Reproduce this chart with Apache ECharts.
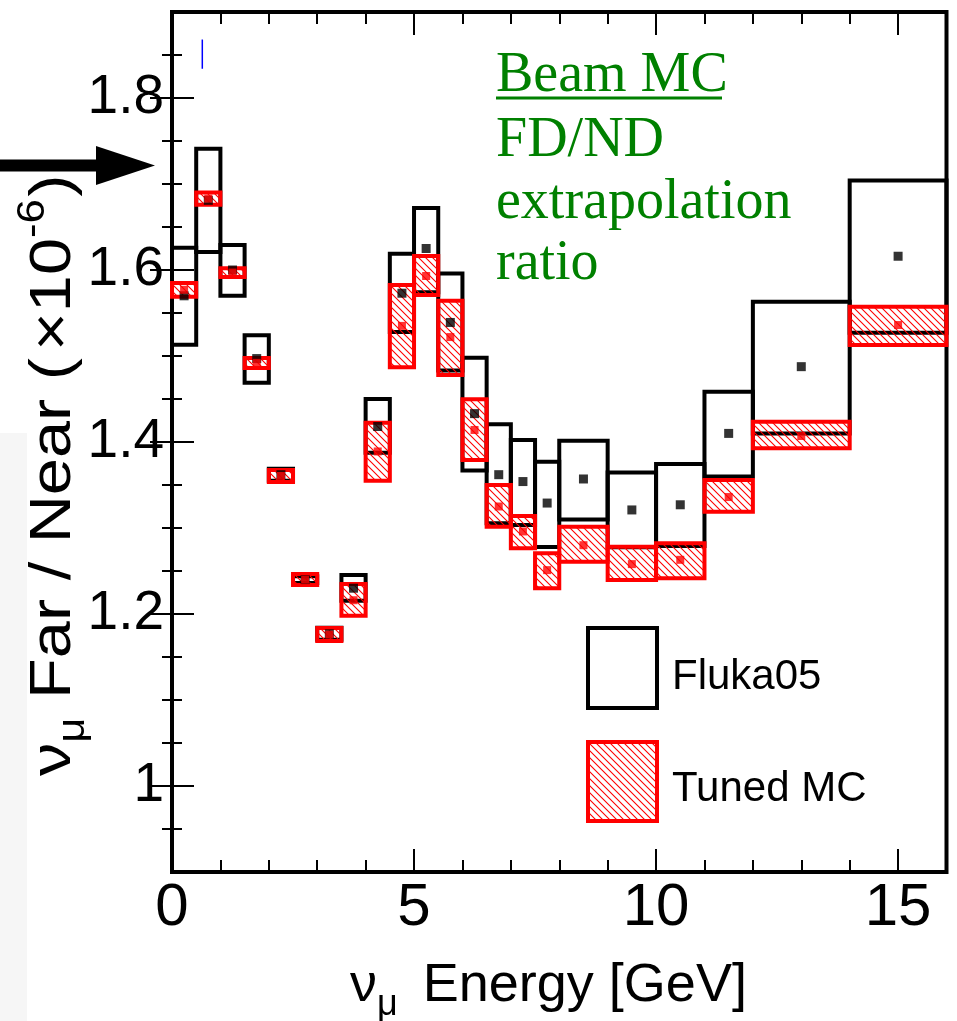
<!DOCTYPE html>
<html><head><meta charset="utf-8">
<script src="https://cdn.jsdelivr.net/npm/echarts@6/dist/echarts.min.js"></script>
<style>html,body{margin:0;padding:0;background:#fff}#c{width:957px;height:1021px}</style>
</head><body><div id="c"></div>
<script>
// ---------------- data ----------------
const binEdges   = [0,0.5,1,1.5,2,2.5,3,3.5,4,4.5,5,5.5,6,6.5,7,7.5,8,9,10,11,12,14,16];
const flukaLow   = [1.513,1.621,1.570,1.469,1.355,1.236,1.170,1.2155,1.3876,1.528,1.574,1.483,1.367,1.3055,1.3035,1.278,1.310,1.2775,1.279,1.360,1.410,1.527];
const flukaHigh  = [1.626,1.741,1.629,1.524,1.369,1.244,1.184,1.2454,1.450,1.619,1.672,1.596,1.498,1.4206,1.4023,1.377,1.4015,1.3644,1.3744,1.4585,1.563,1.704];
const flukaValue = [1.570,1.681,1.600,1.497,1.362,1.240,1.177,1.230,1.418,1.573,1.625,1.539,1.433,1.362,1.354,1.329,1.357,1.321,1.327,1.410,1.4876,1.616];
const tunedLow   = [1.569,1.676,1.592,1.486,1.3535,1.2337,1.1686,1.198,1.355,1.4869,1.571,1.478,1.379,1.3015,1.2764,1.2299,1.2608,1.2395,1.2415,1.319,1.3927,1.5128];
const tunedHigh  = [1.585,1.690,1.602,1.4977,1.3674,1.2465,1.1837,1.2349,1.4225,1.5826,1.6163,1.5643,1.4497,1.350,1.314,1.2706,1.3015,1.2783,1.2822,1.3558,1.4236,1.5574];
const tunedValue = [1.577,1.683,1.597,1.492,1.3605,1.240,1.176,1.216,1.389,1.535,1.593,1.522,1.414,1.325,1.296,1.251,1.280,1.258,1.263,1.336,1.407,1.536];
const strayMarkX  = [0.626];
const strayMarkLo = [1.834];
const strayMarkHi = [1.868];
const xTickLabels = [0,5,10,15];
const xMinorTicks = [1,2,3,4,6,7,8,9,11,12,13,14,16];
const yTickLabels = [1,1.2,1.4,1.6,1.8];
const yMinorTicks = [0.95,1.05,1.1,1.15,1.25,1.3,1.35,1.45,1.5,1.55,1.65,1.7,1.75,1.85];
const seriesNames = ['Fluka05','Tuned MC'];
const noteLines = ['Beam MC','FD/ND','extrapolation','ratio'];

// ---------------- helpers ----------------
const SANS = '"Liberation Sans", Arial, Helvetica, sans-serif';
const SERIF = '"Liberation Serif", "Times New Roman", serif';
const RED = '#ff0000';
function makeHatch() {
  const s = 7, c = document.createElement('canvas');
  c.width = s; c.height = s;
  const g = c.getContext('2d');
  g.strokeStyle = RED; g.lineWidth = 1.1;
  g.beginPath();
  g.moveTo(-1,-1); g.lineTo(s+1,s+1);
  g.moveTo(-1,s-1); g.lineTo(1,s+1);
  g.moveTo(s-1,-1); g.lineTo(s+1,1);
  g.stroke();
  return c;
}
const hatch = makeHatch();
const mctx = document.createElement('canvas').getContext('2d');
function tw(t, size, fam) { mctx.font = size + 'px ' + fam; return mctx.measureText(t).width; }
function richPieces(parts, fam) {
  let x = 0; const out = [];
  parts.forEach(p => {
    x += (p.dx || 0);
    out.push({type:'text', x:x, y:p.dy - 0.31*p.s,
      style:{text:p.t, fill:'#000', font: p.s + 'px ' + fam, textAlign:'left', verticalAlign:'middle'}});
    x += tw(p.t, p.s, fam);
  });
  return out;
}

const boxData = (lo, hi) => lo.map((v,i) => [binEdges[i], binEdges[i+1], v, hi[i]]);
const ptData = vals => vals.map((v,i) => [(binEdges[i]+binEdges[i+1])/2, v]);

function boxRenderer(stroke, fill) {
  return function (params, api) {
    const p0 = api.coord([api.value(0), api.value(3)]);
    const p1 = api.coord([api.value(1), api.value(2)]);
    return {type:'rect', shape:{x:p0[0], y:p0[1], width:p1[0]-p0[0], height:p1[1]-p0[1]},
            style:{fill:fill, stroke:stroke, lineWidth:4}};
  };
}

// ---------------- axes ----------------
const tickStyle = {color:'#000', width:2};
function xAx(pos, ticks, len, labels) {
  return {type:'value', min:0, max:16, position:pos, gridIndex:0,
    axisLine:{show:false}, splitLine:{show:false},
    axisTick:{show:true, inside:true, length:len, customValues:ticks, lineStyle:tickStyle},
    axisLabel: labels ? {show:true, customValues:ticks, fontSize:60, fontFamily:SANS, color:'#000', margin:6}
                      : {show:false}};
}
function yAx(pos, ticks, len, labels) {
  return {type:'value', min:0.9, max:1.9, position:pos, gridIndex:0,
    axisLine:{show:false}, splitLine:{show:false},
    axisTick:{show:true, inside:true, length:len, customValues:ticks, lineStyle:tickStyle},
    axisLabel: labels ? {show:true, customValues:ticks, fontSize:55, fontFamily:SANS, color:'#000', margin:8,
                         padding:[8,0,0,0], formatter: v => String(+(+v).toFixed(1))}
                      : {show:false}};
}

const yTitle = richPieces([
  {t:'ν', s:58, dy:0}, {t:'μ', s:38, dy:13}, {t:' Far / Near (', s:58, dy:0},
  {t:'×10', s:58, dy:0, dx:6}, {t:'-6', s:38, dy:-27}, {t:')', s:58, dy:0, dx:2}], SANS);
const xTitle = richPieces([
  {t:'ν', s:54, dy:0}, {t:'μ', s:36, dy:13}, {t:' Energy [GeV]', s:54, dy:0, dx:10}], SANS);

const option = {
  backgroundColor:'#fff',
  animation:false,
  grid:{left:172, right:10.5, top:12, bottom:149, show:true, borderColor:'#000', borderWidth:4, backgroundColor:'transparent'},
  xAxis:[ xAx('bottom', xTickLabels, 23, true), xAx('bottom', xMinorTicks, 12, false),
          xAx('top', xTickLabels, 23, false), xAx('top', xMinorTicks, 12, false) ],
  yAxis:[ yAx('left', yTickLabels, 22, true), yAx('left', yMinorTicks, 10, false),
          yAx('right', yTickLabels, 22, false), yAx('right', yMinorTicks, 10, false) ],
  series:[
    {type:'custom', name:seriesNames[0], xAxisIndex:0, yAxisIndex:0, clip:false, z:2,
     renderItem: boxRenderer('#000', 'none'), encode:{x:[0,1], y:[2,3]},
     data: boxData(flukaLow, flukaHigh)},
    {type:'custom', name:seriesNames[1], xAxisIndex:0, yAxisIndex:0, clip:false, z:3,
     renderItem: boxRenderer(RED, {image:hatch, repeat:'repeat'}), encode:{x:[0,1], y:[2,3]},
     data: boxData(tunedLow, tunedHigh)},
    {type:'scatter', xAxisIndex:0, yAxisIndex:0, symbol:'rect', symbolSize:9, z:4,
     itemStyle:{color:'#000'}, data: ptData(flukaValue)},
    {type:'scatter', xAxisIndex:0, yAxisIndex:0, symbol:'rect', symbolSize:8, z:5,
     itemStyle:{color:RED}, data: ptData(tunedValue)},
    {type:'custom', xAxisIndex:0, yAxisIndex:0, z:5, encode:{x:0, y:[1,2]},
     renderItem:(params, api) => {
       const a = api.coord([api.value(0), api.value(1)]), b = api.coord([api.value(0), api.value(2)]);
       return {type:'line', shape:{x1:a[0], y1:a[1], x2:b[0], y2:b[1]}, style:{stroke:'#0000ff', lineWidth:1.5}};
     },
     data: strayMarkX.map((x,i) => [x, strayMarkLo[i], strayMarkHi[i]])}
  ],
  graphic:[
    {type:'rect', shape:{x:0, y:433, width:27, height:588}, style:{fill:'#f6f6f6'}, z:-1},
    {type:'rect', shape:{x:0, y:159.5, width:98, height:12}, style:{fill:'#000'}},
    {type:'polygon', shape:{points:[[96,146],[155,165.5],[96,185]]}, style:{fill:'#000'}},
    {type:'group', x:72, y:776, rotation:Math.PI/2, scaleX:1.15, scaleY:1, children:yTitle},
    {type:'group', x:350, y:1003, children:xTitle},
    // note text
    ...noteLines.map((t,i) => ({type:'text', x:496, y:[93.3,158.3,220,281.7][i] - 0.305*56,
      style:{text:t, fill:'#008000', font:'56px ' + SERIF, textAlign:'left', verticalAlign:'middle'}})),
    {type:'rect', shape:{x:496, y:96.5, width:226, height:3}, style:{fill:'#008000'}},
    // legend
    {type:'rect', shape:{x:588, y:628, width:69, height:80}, style:{fill:'none', stroke:'#000', lineWidth:4}},
    {type:'rect', shape:{x:588, y:742, width:69, height:79}, style:{fill:{image:hatch, repeat:'repeat'}, stroke:RED, lineWidth:4}},
    {type:'text', x:672, y:690 - 0.31*42, style:{text:seriesNames[0], fill:'#000', font:'42px ' + SANS, textAlign:'left', verticalAlign:'middle'}},
    {type:'text', x:672, y:802 - 0.31*42, style:{text:seriesNames[1], fill:'#000', font:'42px ' + SANS, textAlign:'left', verticalAlign:'middle'}}
  ]
};
const chart = echarts.init(document.getElementById('c'), null, {renderer:'canvas'});
chart.setOption(option);
</script></body></html>
